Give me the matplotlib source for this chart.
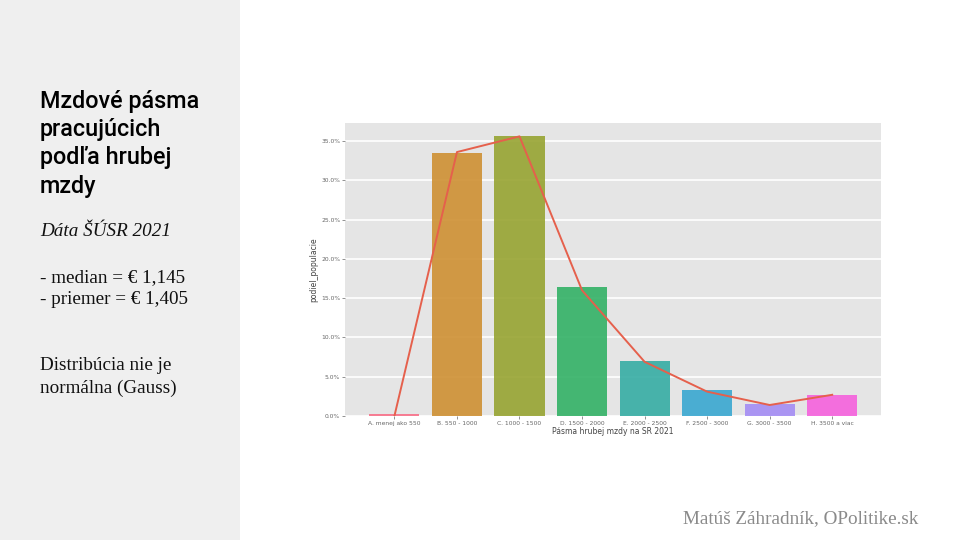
"""
Mzdove pasma pracujucich podla hrubej mzdy (slide recreation).
"""

import matplotlib
matplotlib.use("Agg")
import matplotlib.pyplot as plt
from matplotlib.patches import Rectangle
from matplotlib.ticker import PercentFormatter
import seaborn as sns

# Data.
pasma = ["A. menej ako 550", "B. 550 - 1000", "C. 1000 - 1500", "D. 1500 - 2000",
         "E. 2000 - 2500", "F. 2500 - 3000", "G. 3000 - 3500", "H. 3500 a viac"]
podiel = [0.2, 33.5, 35.6, 16.4, 7.0, 3.25, 1.5, 2.65]
podiel_ciara = [0.0, 33.6, 35.6, 16.0, 6.9, 3.1, 1.4, 2.7]

title_lines = ["Mzdové pásma", "pracujúcich", "podľa hrubej", "mzdy"]
body_lines = ["- median = € 1,145", "- priemer = € 1,405"]
note_lines = ["Distribúcia nie je", "normálna (Gauss)"]


def main():
    plt.style.use("ggplot")
    fig = plt.figure(figsize=(9.6, 5.4), dpi=100)
    fig.patch.set_facecolor("white")

    # Left grey panel.
    fig.patches.append(Rectangle((0, 0), 240 / 960, 1, transform=fig.transFigure,
                                 facecolor="#efefef", edgecolor="none", zorder=0))

    x0 = 40 / 960
    serif = "Liberation Serif"
    fig.text(x0, 1 - 90 / 540, "\n".join(title_lines), family="Roboto", weight="medium",
             fontsize=16.8, color="black", va="top", ha="left", linespacing=1.29)
    fig.text(x0, 1 - 232 / 540, "Dáta ŠÚSR 2021", family=serif, style="italic",
             fontsize=13.8, color="#111111", va="center", ha="left")
    for i, line in enumerate(body_lines):
        fig.text(x0, 1 - (278 + 22 * i) / 540, line, family=serif,
                 fontsize=13.8, color="#111111", va="center", ha="left")
    for i, line in enumerate(note_lines):
        fig.text(x0, 1 - (366 + 22 * i) / 540, line, family=serif,
                 fontsize=13.8, color="#111111", va="center", ha="left")
    fig.text(918 / 960, 1 - 519 / 540, "Matúš Záhradník, OPolitike.sk", family=serif,
             fontsize=13.8, color="#8a8a8a", va="center", ha="right")

    # Chart.
    ax = fig.add_axes([345 / 960, 1 - 416 / 540, (881 - 345) / 960, (416 - 123) / 540])
    ax.set_facecolor("#e5e5e5")
    sns.barplot(x=pasma, y=podiel, hue=pasma, palette="husl", legend=False, ax=ax,
                saturation=1, width=0.8, alpha=0.9, linewidth=0)
    ax.plot(range(len(pasma)), podiel_ciara, color="#e5604c", lw=1.4)

    ax.set_xlim(-0.79, 7.78)
    ax.set_ylim(0, 37.3)
    ax.set_yticks([0, 5, 10, 15, 20, 25, 30, 35])
    ax.yaxis.set_major_formatter(PercentFormatter(decimals=1))
    ax.grid(axis="y", color="white", lw=1.2)
    ax.grid(axis="x", visible=False)
    ax.set_axisbelow(True)
    for s in ax.spines.values():
        s.set_visible(False)
    ax.tick_params(axis="both", labelsize=4.3, colors="#666666", length=2, width=0.5, pad=1.5)
    ax.set_xlabel("Pásma hrubej mzdy na SR 2021", fontsize=5.5, color="#444444", labelpad=1)
    ax.set_ylabel("podiel_populacie", fontsize=5.5, color="#444444", labelpad=2)

    fig.savefig("out.png", dpi=100, facecolor=fig.get_facecolor())


if __name__ == "__main__":
    main()
